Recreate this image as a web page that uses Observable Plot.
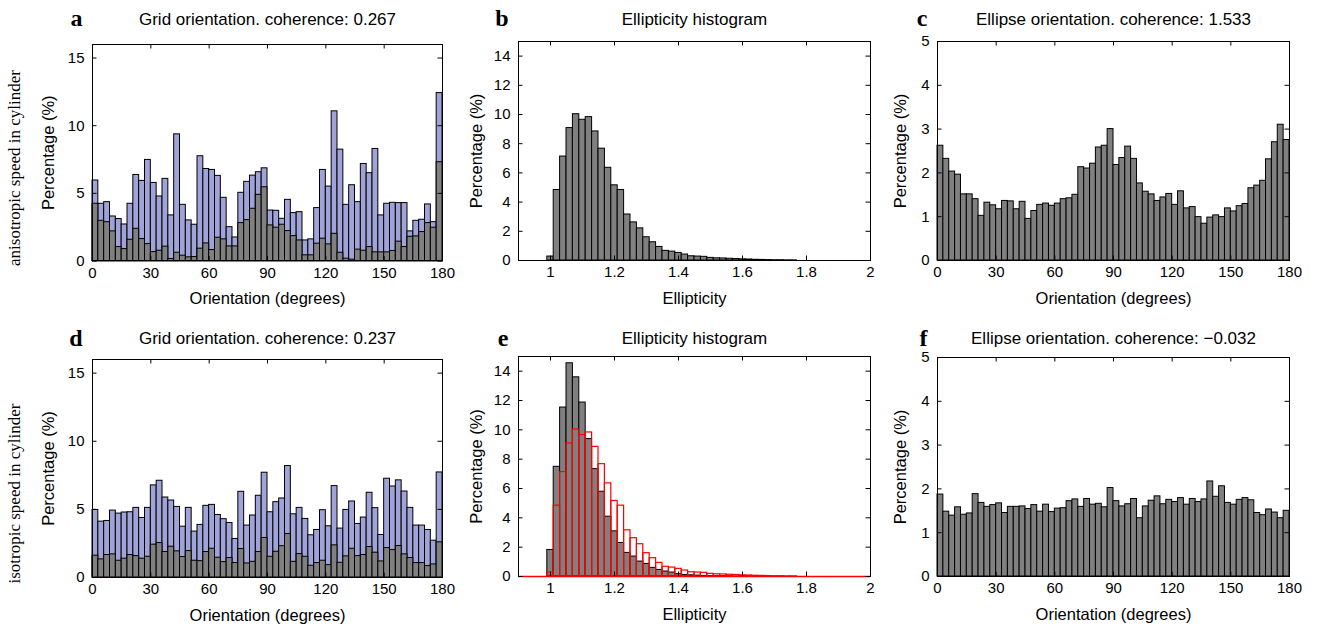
<!DOCTYPE html>
<html><head><meta charset="utf-8">
<script src="https://cdn.jsdelivr.net/npm/d3@7"></script>
<script src="https://cdn.jsdelivr.net/npm/@observablehq/plot@0.6"></script>
<style>
body{margin:0;background:#fff;}
#fig{position:relative;width:1317px;height:634px;background:#fff;overflow:hidden;}
#fig svg{position:absolute;}
</style></head><body><div id="fig"></div>
<script>
// ---------- data ----------
const orientBinStarts = d3.range(0, 180, 3); // 60 orientation bins of 3 degrees
const orientTicks = [0, 30, 60, 90, 120, 150, 180];

// a: anisotropic, grid orientation (blue = all, gray = selected)
const gridAnisoAll = [5.95,4.23,4.35,3.29,3.10,2.70,4.23,6.36,5.92,7.47,
  5.77,4.77,6.07,3.37,9.36,4.15,3.00,2.68,7.74,6.80,
  6.73,6.29,4.67,2.50,1.74,5.04,5.85,6.31,6.56,6.85,
  3.73,3.71,3.12,4.52,3.54,3.61,1.52,1.60,3.91,6.73,
  5.50,11.06,8.23,4.15,5.60,4.35,7.17,6.49,8.28,3.37,
  4.23,4.30,4.28,4.28,2.19,2.97,3.05,4.18,2.87,12.41];
const gridAnisoSel = [4.23,2.97,2.87,2.19,1.03,0.88,1.57,2.38,1.62,1.25,
  0.66,0.76,1.06,0.15,0.61,0.39,0.27,0.29,0.91,1.30,
  0.81,1.72,1.60,1.08,1.08,2.80,3.02,3.86,4.89,5.45,
  2.63,2.46,2.68,2.21,1.84,1.52,0.42,0.42,1.28,1.65,
  1.23,2.01,0.61,0.17,0.10,0.84,0.76,1.03,0.64,0.64,
  0.64,0.74,1.43,1.03,1.79,1.82,2.14,2.80,2.46,7.30];

// c: anisotropic, ellipse orientation
const ellipseAniso = [2.62,2.32,2.03,1.96,1.51,1.51,1.40,1.02,1.32,1.26,
  1.17,1.36,1.35,1.17,1.34,0.95,1.13,1.27,1.30,1.25,
  1.30,1.40,1.42,1.50,2.13,2.10,2.21,2.58,2.62,3.00,
  2.18,2.34,2.60,2.32,1.76,1.57,1.51,1.36,1.44,1.52,
  1.27,1.58,1.19,1.22,0.99,0.84,0.98,1.03,0.99,1.19,
  1.12,1.24,1.29,1.65,1.71,1.82,2.31,2.70,3.10,2.75];

// d: isotropic, grid orientation
const gridIsoAll = [4.96,4.10,4.15,4.91,4.69,4.77,4.79,5.11,4.37,5.11,
  6.76,7.10,5.87,5.65,5.18,3.73,5.11,3.37,3.86,5.26,
  5.33,4.59,4.28,4.00,2.83,6.29,3.81,4.55,6.00,7.69,
  4.79,5.53,5.80,8.18,4.64,5.11,4.30,3.10,3.49,4.94,
  3.76,6.71,3.59,4.96,5.58,3.93,4.40,6.22,5.09,3.12,
  7.25,6.68,7.13,6.31,5.11,3.81,3.81,3.49,2.70,7.71];
const gridIsoSel = [1.60,1.33,1.65,1.70,1.23,1.38,1.65,1.57,1.38,1.52,
  2.41,2.53,1.87,2.26,1.92,1.50,1.94,1.23,1.20,1.87,
  2.11,1.45,1.13,1.43,1.06,2.09,1.03,1.15,1.87,2.90,
  1.52,1.89,2.30,3.19,1.15,1.72,1.52,0.86,1.06,1.23,
  0.91,2.36,1.08,1.55,2.11,1.57,1.65,2.24,1.82,1.18,
  2.16,2.01,2.31,1.70,1.43,1.06,1.06,0.84,0.96,2.58];

// f: isotropic, ellipse orientation
const ellipseIso = [1.87,1.48,1.39,1.58,1.41,1.44,1.88,1.68,1.59,1.63,
  1.67,1.45,1.59,1.59,1.60,1.54,1.63,1.48,1.64,1.47,
  1.55,1.56,1.72,1.76,1.59,1.77,1.64,1.66,1.58,2.02,
  1.72,1.60,1.65,1.77,1.33,1.60,1.73,1.83,1.65,1.75,
  1.70,1.79,1.64,1.77,1.70,1.76,2.17,1.82,2.06,1.68,
  1.64,1.75,1.79,1.74,1.45,1.40,1.53,1.46,1.33,1.50];

// b / e: ellipticity histograms (bin centres, width 0.02)
const ellipBins = [1.00,1.02,1.04,1.06,1.08,1.10,1.12,1.14,1.16,1.18,
  1.20,1.22,1.24,1.26,1.28,1.30,1.32,1.34,1.36,1.38,
  1.40,1.42,1.44,1.46,1.48,1.50,1.52,1.54,1.56,1.58,
  1.60,1.62,1.64,1.66,1.68,1.70,1.72,1.74,1.76];
const ellipAniso = [0.27,4.83,7.12,9.07,10.02,9.64,9.82,8.84,7.66,6.35,
  5.15,4.83,3.15,2.61,2.20,1.59,1.25,0.93,0.66,0.61,
  0.52,0.41,0.29,0.27,0.25,0.18,0.15,0.14,0.12,0.10,
  0.08,0.07,0.05,0.04,0.03,0.02,0.02,0.01,0.01];
const ellipIso = [1.81,7.48,11.52,14.54,13.58,11.86,9.37,7.32,5.78,4.08,
  3.08,2.29,1.61,1.36,1.02,0.86,0.59,0.45,0.34,0.27,
  0.16,0.11,0.08,0.06,0.04,0.03,0.02,0.02,0.01,0,
  0,0,0,0,0,0,0,0,0];
const ellipTicks = [1, 1.2, 1.4, 1.6, 1.8, 2];

// ---------- style ----------
const BLUE = "#9fa3d7", GRAY = "#808080", RED = "#ff0000";
const SANS = "'Liberation Sans', Arial, Helvetica, sans-serif";
const SERIF = "'Liberation Serif', 'Times New Roman', serif";

const orientRows = (vals) => orientBinStarts.map((b, i) => ({x1: b, x2: b + 3, v: vals[i]}));
const ellipRows = (vals) => ellipBins.map((c, i) => ({x1: c - 0.01, x2: c + 0.01, v: vals[i]}));
const bars = (rows, fill, stroke = "black") =>
  Plot.rectY(rows, {x1: "x1", x2: "x2", y: "v", fill, stroke, strokeWidth: 1});

const fig = document.getElementById("fig");

function panel(o) {
  const [L, T, R, B] = o.box;
  const [x0, y0, x1, y1] = o.frame;
  const fw = x1 - x0, fh = y1 - y0, tk = 4.5;
  const marks = [
    ...o.marks,
    Plot.frame({stroke: "black", strokeWidth: 1}),
    ...(o.overlay || []),
    Plot.ruleX(o.xTicks, {insetTop: fh - tk, stroke: "black"}),
    Plot.ruleX(o.xTicks, {insetBottom: fh - tk, stroke: "black"}),
    Plot.ruleY(o.yTicks, {insetRight: fw - tk, stroke: "black"}),
    Plot.ruleY(o.yTicks, {insetLeft: fw - tk, stroke: "black"}),
    Plot.axisX(o.xTicks, {tickSize: 0, tickPadding: 6, label: null, fontSize: 15, tickFormat: d => String(d)}),
    Plot.axisY(o.yTicks, {tickSize: 0, tickPadding: 8, label: null, fontSize: 15, tickFormat: d => String(d)}),
    Plot.text([o.title], {frameAnchor: "top", textAnchor: "middle", lineAnchor: "bottom", dy: o.titleBase - y0, fontSize: 17}),
    Plot.text([o.letter], {frameAnchor: "top-left", textAnchor: "end", lineAnchor: "bottom", dx: -10, dy: o.letterBase - y0, fontSize: 24, fontWeight: "bold", fontFamily: SERIF}),
    Plot.text([o.xLabel], {frameAnchor: "bottom", textAnchor: "middle", lineAnchor: "middle", dy: 38, fontSize: 16.5}),
    Plot.text(["Percentage (%)"], {frameAnchor: "left", textAnchor: "middle", rotate: -90, lineAnchor: "middle", dx: -o.yLabelGap, fontSize: 16.5})
  ];
  if (o.rowLabel) marks.push(Plot.text([o.rowLabel], {frameAnchor: "bottom-left", textAnchor: "start", rotate: -90, lineAnchor: "middle", dx: 14 - x0, dy: o.rowLabelDrop, fontSize: 17, fontFamily: SERIF}));
  const svg = Plot.plot({
    width: R - L, height: B - T,
    marginLeft: x0 - L, marginRight: R - x1, marginTop: y0 - T, marginBottom: B - y1,
    style: {background: "transparent", overflow: "visible", fontFamily: SANS, fontSize: "15px", color: "black"},
    x: {domain: o.xDomain, nice: false},
    y: {domain: o.yDomain, nice: false},
    marks
  });
  svg.style.left = L + "px";
  svg.style.top = T + "px";
  fig.appendChild(svg);
}

const topRow = {titleBase: 24, letterBase: 25};
const botRow = {titleBase: 343, letterBase: 345};

panel({box: [0, 0, 456, 318], frame: [92, 44, 442, 260.5], ...topRow, yLabelGap: 44,
  xDomain: [0, 180], yDomain: [0, 16], xTicks: orientTicks, yTicks: [0, 5, 10, 15],
  marks: [bars(orientRows(gridAnisoAll), BLUE), bars(orientRows(gridAnisoSel), GRAY)],
  title: "Grid orientation. coherence: 0.267", letter: "a", xLabel: "Orientation (degrees)",
  rowLabel: "anisotropic speed in cylinder", rowLabelDrop: 5});

panel({box: [456, 0, 880, 318], frame: [518, 41, 870, 260], ...topRow, yLabelGap: 42,
  xDomain: [0.9, 2], yDomain: [0, 15], xTicks: ellipTicks, yTicks: [0, 2, 4, 6, 8, 10, 12, 14],
  marks: [bars(ellipRows(ellipAniso), GRAY)],
  title: "Ellipticity histogram", letter: "b", xLabel: "Ellipticity"});

panel({box: [880, 0, 1317, 318], frame: [937, 41, 1289, 260], ...topRow, yLabelGap: 37,
  xDomain: [0, 180], yDomain: [0, 5], xTicks: orientTicks, yTicks: [0, 1, 2, 3, 4, 5],
  marks: [bars(orientRows(ellipseAniso), GRAY)],
  title: "Ellipse orientation. coherence: 1.533", letter: "c", xLabel: "Orientation (degrees)"});

panel({box: [0, 318, 456, 634], frame: [92, 359, 442, 577], ...botRow, yLabelGap: 44,
  xDomain: [0, 180], yDomain: [0, 16], xTicks: orientTicks, yTicks: [0, 5, 10, 15],
  marks: [bars(orientRows(gridIsoAll), BLUE), bars(orientRows(gridIsoSel), GRAY)],
  title: "Grid orientation. coherence: 0.237", letter: "d", xLabel: "Orientation (degrees)",
  rowLabel: "isotropic speed in cylinder", rowLabelDrop: 6});

panel({box: [456, 318, 880, 634], frame: [518, 356, 870, 576], ...botRow, yLabelGap: 42,
  xDomain: [0.9, 2], yDomain: [0, 15], xTicks: ellipTicks, yTicks: [0, 2, 4, 6, 8, 10, 12, 14],
  marks: [bars(ellipRows(ellipIso).filter(d => d.v > 0), GRAY)],
  overlay: [
    Plot.rectY(ellipRows(ellipAniso), {x1: "x1", x2: "x2", y: "v", fill: "none", stroke: RED, strokeWidth: 1.2}),
    Plot.ruleY([0], {stroke: RED, strokeWidth: 1.5})
  ],
  title: "Ellipticity histogram", letter: "e", xLabel: "Ellipticity"});

panel({box: [880, 318, 1317, 634], frame: [937, 357, 1289, 576], ...botRow, yLabelGap: 37,
  xDomain: [0, 180], yDomain: [0, 5], xTicks: orientTicks, yTicks: [0, 1, 2, 3, 4, 5],
  marks: [bars(orientRows(ellipseIso), GRAY)],
  title: "Ellipse orientation. coherence: \u22120.032", letter: "f", xLabel: "Orientation (degrees)"});
</script>
</body></html>
